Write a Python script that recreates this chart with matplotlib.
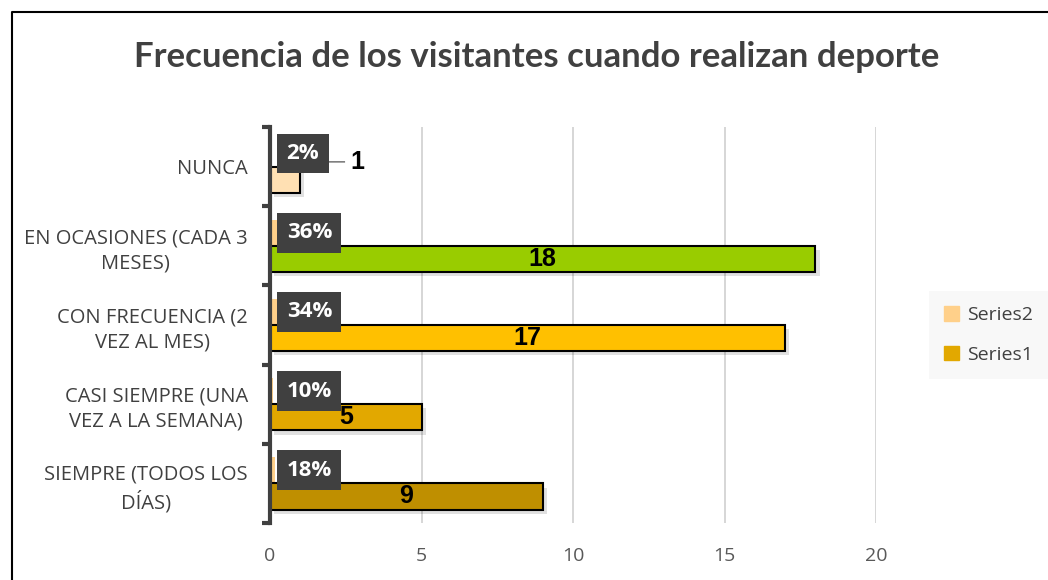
import matplotlib
matplotlib.use("Agg")
import matplotlib.pyplot as plt
import matplotlib.patches as mpatches
import matplotlib.patheffects as pe
import numpy as np

plt.rcParams["font.family"] = ["Open Sans", "DejaVu Sans"]

# data, bottom to top as drawn
categories = ["SIEMPRE (TODOS LOS\nDÍAS)", "CASI SIEMPRE (UNA\nVEZ A LA SEMANA)",
              "CON FRECUENCIA (2\nVEZ AL MES)", "EN OCASIONES (CADA 3\nMESES)", "NUNCA"]
series1 = [9, 5, 17, 18, 1]
series2 = [0.18, 0.10, 0.34, 0.36, 0.02]
series2_labels = ["18%", "10%", "34%", "36%", "2%"]
series1_colors = ["#BF8F00", "#E2A800", "#FFC000", "#99CC00", "#FFE0B3"]
series2_color = "#FFD08A"
xticks = [0, 5, 10, 15, 20]

W, H, dpi = 1048, 580, 100
fig = plt.figure(figsize=(W / dpi, H / dpi), dpi=dpi)
ax = fig.add_axes([270 / W, 1 - 523 / H, (876 - 270) / W, (523 - 127) / H])

y = np.arange(len(categories))
h = 0.33
shadow = [pe.withSimplePatchShadow(offset=(3, -3), shadow_rgbFace="#000000", alpha=0.12)]

ax.barh(y + h / 2, series2, height=h, color=series2_color, edgecolor="none", zorder=3)
bars1 = ax.barh(y - h / 2, series1, height=h, color=series1_colors,
                edgecolor="black", linewidth=1.5, zorder=3)
for b in bars1:
    b.set_path_effects(shadow)

ax.set_xlim(0, 20)
ax.set_ylim(-0.5, len(categories) - 0.5)
ax.set_xticks(xticks)
ax.set_xticklabels([str(t) for t in xticks])
ax.tick_params(axis="x", length=0, pad=17, labelsize=14, labelcolor="#595959")
ax.xaxis.grid(True, color="#D0D0D0", linewidth=1.2, zorder=0)
ax.set_axisbelow(True)

ax.set_yticks(y)
ax.set_yticklabels(categories, fontsize=14.5, color="#404040", multialignment="center",
                   linespacing=1.35)
ax.set_yticks(np.arange(-0.5, len(categories)), minor=True)
ax.tick_params(axis="y", which="major", length=0, pad=16)
ax.tick_params(axis="y", which="minor", length=6, width=3, color="#404040", direction="out")

for s in ["top", "right", "bottom"]:
    ax.spines[s].set_visible(False)
ax.spines["left"].set_linewidth(3)
ax.spines["left"].set_color("#404040")
ax.spines["left"].set_zorder(5)

# series2 labels: dark boxes
for yi, lab in zip(y, series2_labels):
    ax.text(0.55, yi + h / 2, lab, ha="left", va="center", color="white",
            fontsize=16, fontweight="bold", zorder=6,
            bbox=dict(boxstyle="square,pad=0.42", facecolor="#404040", edgecolor="none"))

# series1 labels
for yi, v in zip(y, series1):
    if v > 2:
        ax.text(v / 2, yi - h / 2, str(v), ha="center", va="center", family="Liberation Sans",
                fontsize=18, fontweight="bold", color="black", zorder=6)
    else:
        yc = yi + 0.06
        ax.plot([v, 1.9, 2.45], [yi, yc, yc], color="#7F7F7F", linewidth=1.2, zorder=4)
        ax.text(2.65, yc, str(v), ha="left", va="center", family="Liberation Sans",
                fontsize=18, fontweight="bold", color="black", zorder=6)

fig.text(537 / W, 1 - 57 / H, "Frecuencia de los visitantes cuando realizan deporte",
         ha="center", va="center", fontsize=25, fontweight="bold", color="#404040",
         family="Lato")

handles = [mpatches.Patch(color=series2_color, label="Series2"),
           mpatches.Patch(color="#E2A800", label="Series1")]
leg = fig.legend(handles=handles, loc="center right", bbox_to_anchor=(1058 / W, 1 - 335 / H),
                 frameon=True, fontsize=14, labelcolor="#404040", handlelength=0.75,
                 handleheight=0.75, handletextpad=0.4, labelspacing=1.1, borderpad=0.8)
leg.get_frame().set_facecolor("#F7F7F7")
leg.get_frame().set_edgecolor("none")
leg.get_frame().set_boxstyle("square", pad=0)

# outer border (cropped on the right and bottom)
fig.add_artist(plt.Line2D([12 / W, 12 / W, 1], [0, 1 - 12 / H, 1 - 12 / H],
                          transform=fig.transFigure, color="black", linewidth=1.5))

fig.savefig("out.png", dpi=dpi)
